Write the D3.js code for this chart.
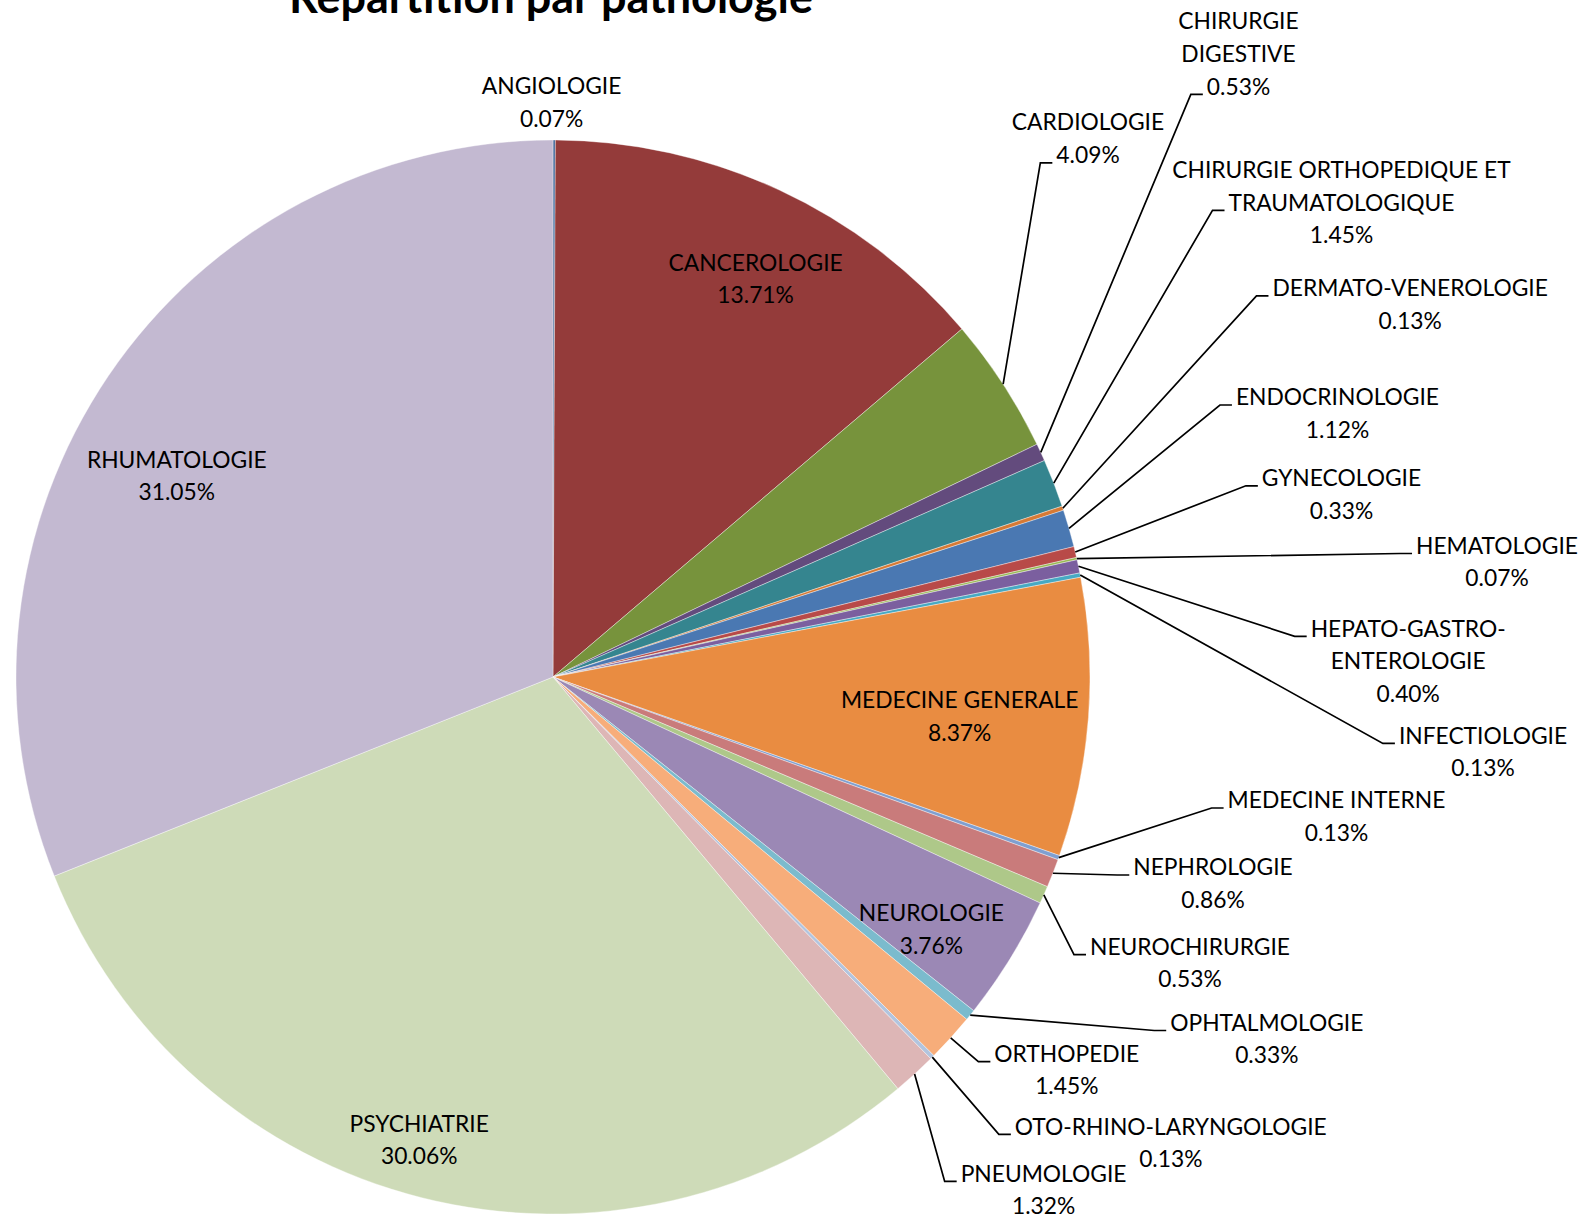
<!DOCTYPE html>
<html>
<head>
<meta charset="utf-8">
<script src="https://cdn.jsdelivr.net/npm/d3@7"></script>
<style>
  html, body { margin: 0; padding: 0; background: #fff; }
  svg { display: block; }
  text { font-family: Lato, "Noto Sans", sans-serif; fill: #000; }
</style>
</head>
<body>
<svg id="chart" width="1584" height="1216"></svg>
<script>
// Share of stays per speciality (percent)
const categories = [
  "ANGIOLOGIE", "CANCEROLOGIE", "CARDIOLOGIE", "CHIRURGIE DIGESTIVE",
  "CHIRURGIE ORTHOPEDIQUE ET TRAUMATOLOGIQUE", "DERMATO-VENEROLOGIE",
  "ENDOCRINOLOGIE", "GYNECOLOGIE", "HEMATOLOGIE", "HEPATO-GASTRO-ENTEROLOGIE",
  "INFECTIOLOGIE", "MEDECINE GENERALE", "MEDECINE INTERNE", "NEPHROLOGIE",
  "NEUROCHIRURGIE", "NEUROLOGIE", "OPHTALMOLOGIE", "ORTHOPEDIE",
  "OTO-RHINO-LARYNGOLOGIE", "PNEUMOLOGIE", "PSYCHIATRIE", "RHUMATOLOGIE"
];
const percentages = [
  0.07, 13.71, 4.09, 0.53,
  1.45, 0.13,
  1.12, 0.33, 0.07, 0.40,
  0.13, 8.37, 0.13, 0.86,
  0.53, 3.76, 0.33, 1.45,
  0.13, 1.32, 30.06, 31.05
];

// Fill palette, one colour per slice in drawing order
const palette = [
  "#3b6296", "#943b3a", "#77933c", "#634b7d",
  "#35858f", "#d67a35", "#4a78b2", "#b84a48",
  "#98b954", "#7b5f9f", "#47a9c3", "#e98c41",
  "#7f9fd0", "#c97b7b", "#aec889", "#9b88b5",
  "#7bbbcd", "#f7ad7a", "#b2c4de", "#ddb6b6",
  "#cedbb8", "#c3b9d1"
];

// Label placement: centre x, y of first line, wrapped lines, and the line the leader meets
const labelLayout = {
  "ANGIOLOGIE":        { x: 551.6, y: 86,    inside: true },
  "CANCEROLOGIE":      { x: 755.6, y: 262.6, inside: true },
  "CARDIOLOGIE":       { x: 1088,  y: 122.2, attach: 1 },
  "CHIRURGIE DIGESTIVE": { x: 1238.5, y: 21.2, lines: ["CHIRURGIE", "DIGESTIVE"], attach: 2 },
  "CHIRURGIE ORTHOPEDIQUE ET TRAUMATOLOGIQUE": { x: 1341.5, y: 169.7,
      lines: ["CHIRURGIE ORTHOPEDIQUE ET", "TRAUMATOLOGIQUE"], attach: 1 },
  "DERMATO-VENEROLOGIE": { x: 1410.2, y: 287.9, attach: 0 },
  "ENDOCRINOLOGIE":    { x: 1337.5, y: 397,   attach: 0 },
  "GYNECOLOGIE":       { x: 1341.5, y: 477.8, attach: 0 },
  "HEMATOLOGIE":       { x: 1497,   y: 545.5, attach: 0 },
  "HEPATO-GASTRO-ENTEROLOGIE": { x: 1408.2, y: 628.3, lines: ["HEPATO-GASTRO-", "ENTEROLOGIE"], attach: 0 },
  "INFECTIOLOGIE":     { x: 1483,   y: 735.4, attach: 0 },
  "MEDECINE GENERALE": { x: 959.7,  y: 700.1, inside: true },
  "MEDECINE INTERNE":  { x: 1336.5, y: 800,   attach: 0 },
  "NEPHROLOGIE":       { x: 1213,   y: 867,   attach: 0 },
  "NEUROCHIRURGIE":    { x: 1190,   y: 946.6, attach: 0 },
  "NEUROLOGIE":        { x: 931.4,  y: 913.2, inside: true },
  "OPHTALMOLOGIE":     { x: 1266.8, y: 1022.5, attach: 0 },
  "ORTHOPEDIE":        { x: 1066.8, y: 1053.6, attach: 0 },
  "OTO-RHINO-LARYNGOLOGIE": { x: 1170.8, y: 1126.4, attach: 0 },
  "PNEUMOLOGIE":       { x: 1043.6, y: 1173.4, attach: 0 },
  "PSYCHIATRIE":       { x: 419.2,  y: 1123.3, inside: true },
  "RHUMATOLOGIE":      { x: 176.8,  y: 459.6, inside: true }
};

const W = 1584, H = 1216;
const cx = 553, cy = 677, radius = 537;
const fontSize = 22.8, lineGap = 32.6, baselineShift = 8.2;

const svg = d3.select("#chart");

// Title (top part runs above the page edge)
svg.append("text")
  .attr("x", 551)
  .attr("y", 13)
  .attr("text-anchor", "middle")
  .style("font-weight", "700")
  .style("font-size", "45px")
  .text("Répartition par pathologie");

const rows = categories.map((c, i) => ({ name: c, value: percentages[i], color: palette[i] }));

const pie = d3.pie().sort(null).value(d => d.value).startAngle(0).endAngle(2 * Math.PI);
const arcs = pie(rows);
const arc = d3.arc().innerRadius(0).outerRadius(radius);

const gPie = svg.append("g").attr("transform", `translate(${cx},${cy})`);
gPie.selectAll("path.slice")
  .data(arcs)
  .join("path")
  .attr("class", "slice")
  .attr("d", arc)
  .attr("fill", d => d.data.color)
  .attr("stroke", "rgba(255,255,255,0.55)")
  .attr("stroke-width", 0.7);

// Labels and leader lines
const gLabels = svg.append("g");
const gLeaders = svg.append("g");

arcs.forEach(a => {
  const lay = labelLayout[a.data.name];
  const lines = (lay.lines ? lay.lines.slice() : [a.data.name]);
  lines.push(a.data.value.toFixed(2) + "%");

  const t = gLabels.append("text")
    .attr("text-anchor", "middle")
    .style("font-size", fontSize + "px");
  const spans = lines.map((ln, k) =>
    t.append("tspan")
      .attr("x", lay.x)
      .attr("y", lay.y + k * lineGap + baselineShift)
      .text(ln)
  );

  if (lay.attach === undefined) return;

  // Leader: from the middle of the slice's outer edge to the left side of the chosen line
  const mid = (a.startAngle + a.endAngle) / 2;
  const sx = cx + radius * Math.sin(mid);
  const sy = cy - radius * Math.cos(mid);
  const w = spans[lay.attach].node().getComputedTextLength();
  const ex = lay.x - w / 2 - 4;
  const ey = lay.y + lay.attach * lineGap + 8;
  const kx = ex - 12;

  gLeaders.append("path")
    .attr("d", d3.line()([[sx, sy], [kx, ey], [ex, ey]]))
    .attr("fill", "none")
    .attr("stroke", "#000")
    .attr("stroke-width", 1.7);
});
</script>
</body>
</html>
